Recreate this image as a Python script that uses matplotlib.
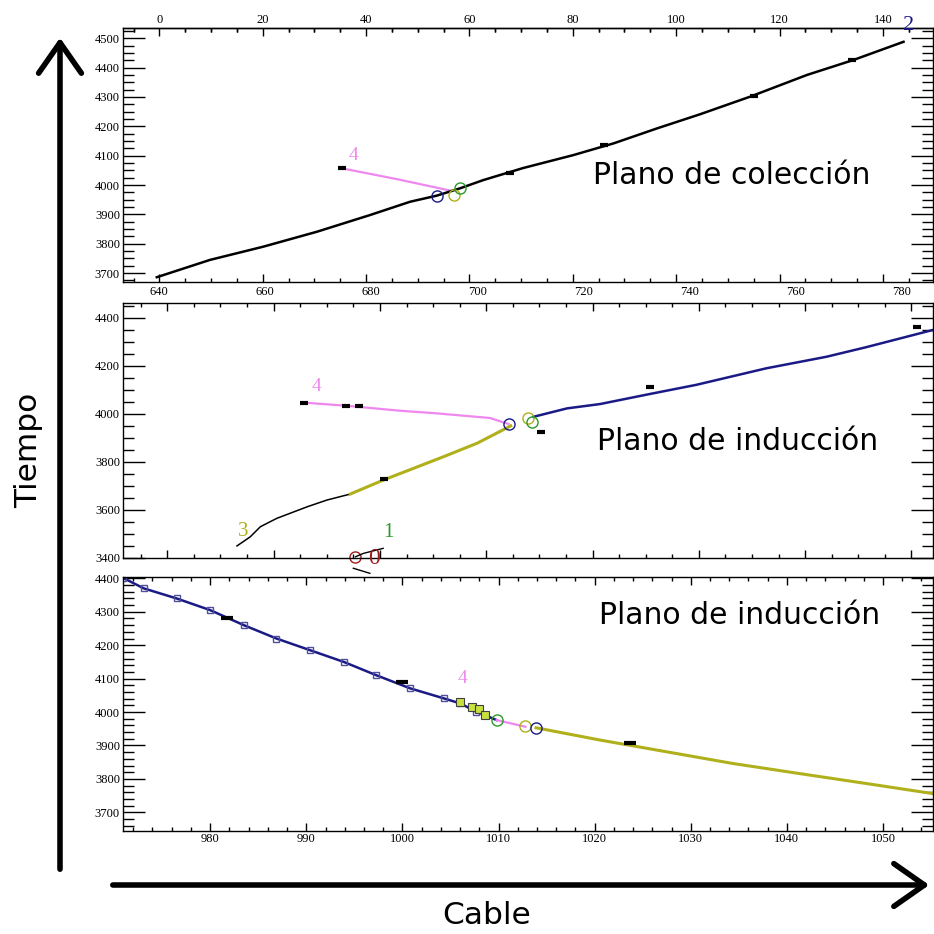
import matplotlib
matplotlib.use("Agg")
import matplotlib.pyplot as plt
from matplotlib.ticker import MultipleLocator, NullLocator
from matplotlib.patches import FancyArrowPatch

plt.rcParams["font.family"] = ["Liberation Serif", "DejaVu Serif"]
plt.rcParams["axes.linewidth"] = 1.0

# ---------------- colours ----------------
NAVY = "#1a1a86"
PINK = "#ee88ee"
OLIVE = "#b0b01c"
GREEN = "#2a9a2a"
DARKRED = "#a01c1c"
BLACK = "#000000"

# ---------------- collection plane ----------------
col_wire = [639.5, 649.8, 660.1, 670.5, 680.8, 688.5, 693.7, 698.2, 702.7, 710.4,
            720.1, 727.9, 736.3, 744.6, 754.3, 765.3, 774.3, 784.0]
col_time = [3686, 3745, 3790, 3841, 3898, 3943, 3964, 3989, 4017, 4058,
            4102, 4142, 4193, 4241, 4301, 4375, 4426, 4488]
col_t4_wire = [675.3, 686.0, 696.3]
col_t4_time = [4057, 4020, 3981]
col_vtx_wire = [693.7, 697.1, 698.2]
col_vtx_time = [3964, 3966, 3989]
col_hits_wire = [675.3, 707.9, 726.0, 755.0, 774.0]
col_hits_time = [4057, 4042, 4135, 4305, 4425]
col_labels = [640, 660, 680, 700, 720, 740, 760, 780]

# ---------------- induction plane 1 ----------------
i1_t2_wire = [708.9, 715.2, 721.4, 730.8, 739.5, 752.7, 764.0, 771.5, 784.1]
i1_t2_time = [3987, 4022, 4040, 4082, 4120, 4189, 4237, 4277, 4349]
i1_t3_wire = [674.4, 680.7, 692.0, 698.3, 704.6]
i1_t3_time = [3665, 3724, 3821, 3877, 3949]
i1_tail_wire = [653.1, 655.6, 657.5, 660.6, 666.3, 670.0, 674.4]
i1_tail_time = [3449, 3487, 3529, 3564, 3612, 3640, 3665]
i1_t4_wire = [665.7, 673.7, 683.9, 690.3, 700.7, 704.2]
i1_t4_time = [4046, 4033, 4012, 4002, 3982, 3957]
i1_vtx_wire = [704.2, 707.9, 708.6]
i1_vtx_time = [3957, 3981, 3964]
i1_hits_wire = [665.7, 673.6, 676.0, 710.3, 730.8, 781.1, 680.7]
i1_hits_time = [4046, 4034, 4030, 3922, 4110, 4362, 3727]
i1_t0_wire = [675.4, 676.9, 680.6]
i1_t0_time = [3404, 3418, 3439]
i1_t1_wire = [675.0, 678.1]
i1_t1_time = [3356, 3335]

# ---------------- induction plane 2 ----------------
i2_t2_wire = [970.9, 973.1, 976.5, 980.0, 983.5, 986.9, 990.4, 993.9, 997.3,
              1000.8, 1004.3, 1006.0, 1007.7, 1009.8]
i2_t2_time = [4402, 4370, 4340, 4305, 4260, 4220, 4185, 4150, 4110,
              4071, 4041, 4026, 4001, 3976]
i2_t4_wire = [1009.8, 1012.8]
i2_t4_time = [3976, 3956]
i2_t3_wire = [1013.9, 1020.6, 1027.5, 1034.4, 1041.3, 1048.3, 1055.2]
i2_t3_time = [3953, 3916, 3881, 3846, 3816, 3786, 3756]
i2_vtx_wire = [1009.8, 1012.8, 1013.9]
i2_vtx_time = [3976, 3958, 3953]
i2_hits_wire = [981.7, 1000.0, 1023.7]
i2_hits_time = [4280, 4090, 3908]
i2_box_wire = [1006.0, 1007.2, 1008.0, 1008.6]
i2_box_time = [4030, 4016, 4008, 3992]

VTX_COLORS = [NAVY, OLIVE, GREEN]

fig = plt.figure(figsize=(9.34, 9.34), dpi=100)


def box(l, t, r, b):
    return [l / 934, 1 - b / 934, (r - l) / 934, (b - t) / 934]


ax_col = fig.add_axes(box(122.7, 28.3, 933, 281.7))
ax_i1 = fig.add_axes(box(122.7, 303, 933, 557.7))
ax_i2 = fig.add_axes(box(122.7, 576.7, 933, 830.7))


def style(ax, xmaj, xmin, ymaj, ymin):
    ax.xaxis.set_major_locator(MultipleLocator(xmaj))
    ax.xaxis.set_minor_locator(MultipleLocator(xmin))
    ax.yaxis.set_major_locator(MultipleLocator(ymaj))
    ax.yaxis.set_minor_locator(MultipleLocator(ymin))
    ax.tick_params(which="both", direction="in", top=True, right=True,
                   labelsize=9, pad=2, width=1)
    ax.tick_params(axis="y", which="major", length=16)
    ax.tick_params(axis="y", which="minor", length=8)
    ax.tick_params(axis="x", which="major", length=6)
    ax.tick_params(axis="x", which="minor", length=3)


# collection plane axes
ax_col.set_xlim(632.9, 789.7)
ax_col.set_ylim(3670.7, 4534)
style(ax_col, 20, 5, 100, 25)
ax_col.tick_params(top=False, labelbottom=False)
# wire-in-plane index along the top
sec = ax_col.secondary_xaxis("top", functions=(lambda w: w - 640, lambda n: n + 640))
sec.set_xticks([0, 20, 40, 60, 80, 100, 120, 140])
sec.xaxis.set_minor_locator(MultipleLocator(5))
sec.tick_params(which="both", direction="in", labelsize=9, pad=2, width=1)
sec.tick_params(which="major", length=6)
sec.tick_params(which="minor", length=3)
# absolute wire numbers printed under the collection view
wire_scale = 5.167 / 5.30
bot = ax_col.secondary_xaxis(
    "bottom",
    functions=(lambda w: 640.06 + (w - 640) * wire_scale,
               lambda n: 640 + (n - 640.06) / wire_scale))
bot.set_xticks(col_labels)
bot.xaxis.set_minor_locator(NullLocator())
bot.tick_params(which="both", length=0, labelsize=9, pad=3)
bot.spines["bottom"].set_visible(False)

# induction plane 1 axes
ax_i1.set_xlim(631.6, 784.06)
ax_i1.set_ylim(3400, 4461)
style(ax_i1, 20, 5, 200, 50)
ax_i1.tick_params(labelbottom=False)

# induction plane 2 axes
ax_i2.set_xlim(970.9, 1055.2)
ax_i2.set_ylim(3645, 4405)
style(ax_i2, 10, 2, 100, 20)

# ---- collection plane content ----
ax_col.plot(col_t4_wire, col_t4_time, color=PINK, lw=1.6)
ax_col.plot(col_wire, col_time, color=BLACK, lw=1.8)
ax_col.plot(col_hits_wire, col_hits_time, ls="none", marker="_", ms=6, mew=3, color=BLACK)
for w, t, c in zip(col_vtx_wire, col_vtx_time, VTX_COLORS):
    ax_col.plot(w, t, marker="o", ms=8, mfc="none", mec=c, mew=1)
ax_col.text(677.5, 4102, "4", color=PINK, fontsize=14, ha="center", va="center")
ax_col.text(784.9, 4545, "2", color=NAVY, fontsize=16, ha="center", va="center",
            clip_on=False)
ax_col.text(750.8, 4034, "Plano de colección", family="DejaVu Sans", fontsize=21.5,
            ha="center", va="center")

# ---- induction plane 1 content ----
ax_i1.plot(i1_t4_wire, i1_t4_time, color=PINK, lw=1.6)
ax_i1.plot(i1_tail_wire, i1_tail_time, color=BLACK, lw=1.1)
ax_i1.plot(i1_t3_wire, i1_t3_time, color=OLIVE, lw=2.2)
ax_i1.plot(i1_t2_wire, i1_t2_time, color=NAVY, lw=1.8)
ax_i1.plot(i1_hits_wire, i1_hits_time, ls="none", marker="_", ms=6, mew=3, color=BLACK)
for w, t, c in zip(i1_vtx_wire, i1_vtx_time, VTX_COLORS):
    ax_i1.plot(w, t, marker="o", ms=8, mfc="none", mec=c, mew=1)
ax_i1.plot(i1_t0_wire[0], i1_t0_time[0], marker="o", ms=8, mfc="none", mec=DARKRED, mew=1,
           clip_on=False)
ax_i1.plot(i1_t0_wire, i1_t0_time, color=BLACK, lw=1, clip_on=False)
ax_i1.plot(i1_t1_wire, i1_t1_time, color=BLACK, lw=1, clip_on=False)
ax_i1.text(668.0, 4115, "4", color=PINK, fontsize=14, ha="center", va="center")
ax_i1.text(654.3, 3508, "3", color=OLIVE, fontsize=15, ha="center", va="center")
ax_i1.text(681.6, 3504, "1", color=GREEN, fontsize=15, ha="center", va="center")
ax_i1.text(678.8, 3397, "0", color=DARKRED, fontsize=17, ha="center", va="center",
           clip_on=False)
ax_i1.text(747.2, 3882, "Plano de inducción", family="DejaVu Sans", fontsize=21.5,
           ha="center", va="center")

# ---- induction plane 2 content ----
ax_i2.plot(i2_t2_wire, i2_t2_time, color=NAVY, lw=1.8)
ax_i2.plot(i2_t2_wire[:-1], i2_t2_time[:-1], ls="none", marker="s", ms=5,
           mfc="none", mec="#50509a", mew=1)
ax_i2.plot(i2_box_wire, i2_box_time, ls="none", marker="s", ms=6,
           mfc="#c8e040", mec="#404040", mew=0.8)
ax_i2.plot(i2_t4_wire, i2_t4_time, color=PINK, lw=1.6)
ax_i2.plot(i2_t3_wire, i2_t3_time, color=OLIVE, lw=2.2)
ax_i2.plot(i2_hits_wire, i2_hits_time, ls="none", marker="_", ms=8, mew=3, color=BLACK)
for w, t, c in zip(i2_vtx_wire, i2_vtx_time, [GREEN, OLIVE, NAVY]):
    ax_i2.plot(w, t, marker="o", ms=8, mfc="none", mec=c, mew=1)
ax_i2.text(1006.2, 4100, "4", color=PINK, fontsize=14, ha="center", va="center")
ax_i2.text(1035.1, 4290, "Plano de inducción", family="DejaVu Sans", fontsize=21.5,
           ha="center", va="center")

# ---- big axis arrows and titles ----
fig.add_artist(FancyArrowPatch((60 / 934, 1 - 872 / 934), (60 / 934, 1 - 35 / 934),
                               transform=fig.transFigure, arrowstyle="->,head_length=1.0,head_width=0.7",
                               mutation_scale=22, lw=4, color=BLACK))
fig.add_artist(FancyArrowPatch((110 / 934, 1 - 885 / 934), (932 / 934, 1 - 885 / 934),
                               transform=fig.transFigure, arrowstyle="->,head_length=1.0,head_width=0.7",
                               mutation_scale=22, lw=4, color=BLACK))
fig.text(29 / 934, 1 - 450 / 934, "Tiempo", family="DejaVu Sans", fontsize=22.5,
         rotation=90, ha="center", va="center")
fig.text(487 / 934, 1 - 915 / 934, "Cable", family="DejaVu Sans", fontsize=22.5,
         ha="center", va="center")

fig.savefig("out.png", dpi=100)
